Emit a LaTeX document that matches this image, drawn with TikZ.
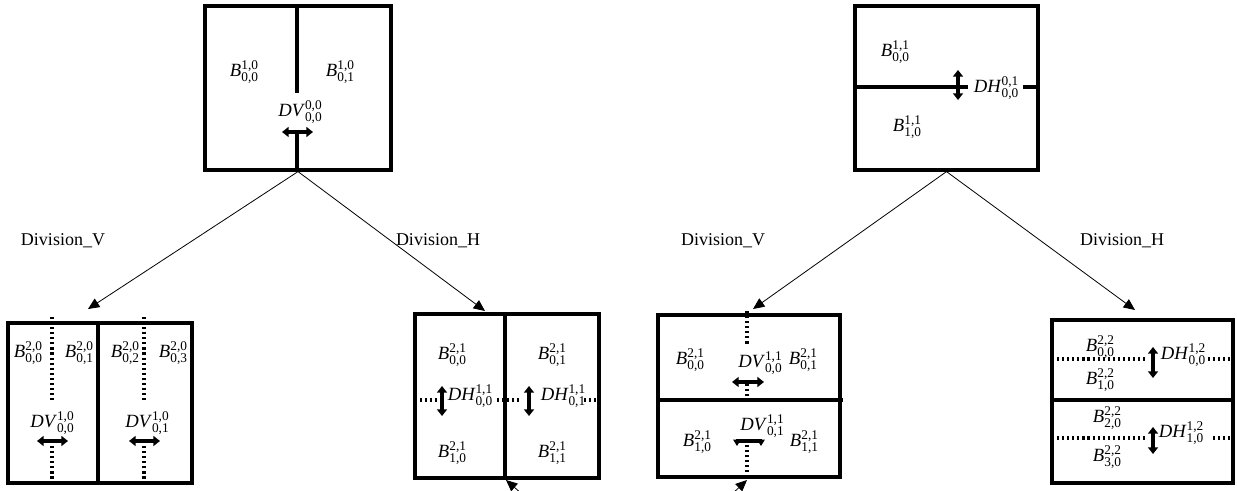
\documentclass[tikz,border=0pt]{standalone}
\usepackage{fontspec}
\setmainfont{Liberation Serif}
\usetikzlibrary{arrows.meta}
\newcommand\mylab[3]{\textit{#1}\makebox[0pt][l]{\raisebox{0.8ex}{\fontsize{10}{10}\selectfont #2}}\raisebox{-0.6ex}{\fontsize{10}{10}\selectfont #3}}
\tikzset{
  box/.style={draw, line width=2.4pt, inner sep=0pt},
  conn/.style={-{Triangle[length=8.5pt,width=7.5pt]}, line width=0.6pt},
  divline/.style={line width=2.6pt},
  dots/.style={line width=2.3pt, dash pattern=on 1.6pt off 2.2pt},
  dbl/.style={{Triangle[length=5pt,width=7.5pt]}-{Triangle[length=5pt,width=7.5pt]}, line width=2.6pt},
  lab/.style={font=\fontsize{14}{16}\selectfont, inner sep=0pt},
  title/.style={font=\fontsize{13.5}{16}\selectfont, inner sep=0pt}
}
\begin{document}
\begin{tikzpicture}[x=0.75pt,y=-0.75pt]
\useasboundingbox (0,0) rectangle (1237,491);
% boxes
\node[box, minimum width=186*0.75pt, minimum height=164*0.75pt] (t1) at (298,88) {};
\node[box, minimum width=183*0.75pt, minimum height=164*0.75pt] (t2) at (946.5,88) {};
\node[box, minimum width=184*0.75pt, minimum height=160*0.75pt] (bl) at (100,403) {};
\node[box, minimum width=184*0.75pt, minimum height=164*0.75pt] (bm1) at (507,396) {};
\node[box, minimum width=182*0.75pt, minimum height=162*0.75pt] (bm2) at (749,396) {};
\node[box, minimum width=181*0.75pt, minimum height=163*0.75pt] (br) at (1142.5,401.5) {};

% connector tips
\coordinate (a1) at (88,309);
\coordinate (a2) at (485,311);
\coordinate (a3) at (753,309);
\coordinate (a4) at (1135,310);
\draw[conn] (t1.south) -- (a1);
\draw[conn] (t1.south) -- (a2);
\draw[conn] (t2.south) -- (a3);
\draw[conn] (t2.south) -- (a4);

% titles
\node[title] (dv1) at (63,241) {Division\_V};
\node[title] (dh1) at (438,241) {Division\_H};
\node[title] (dv2) at (723,241) {Division\_V};
\node[title] (dh2) at (1122,241) {Division\_H};

% ---- T1
\draw[divline] (297,6) -- (297,93);
\draw[divline] (297,132) -- (297,170);
\draw[dbl] (282,132) -- (313,132);
\node[lab] (t1dv) at (300,112) {\mylab{DV}{0,0}{0,0}};
\node[lab] (t1b0) at (244,72) {\mylab{B}{1,0}{0,0}};
\node[lab] (t1b1) at (340,72) {\mylab{B}{1,0}{0,1}};

% ---- T2
\draw[divline] (855,87) -- (968,87);
\draw[divline] (1023,87) -- (1038,87);
\draw[dbl] (958,70) -- (958,100);
\node[lab] (t2dh) at (996,88) {\mylab{DH}{0,1}{0,0}};
\node[lab] (t2b0) at (895,52) {\mylab{B}{1,1}{0,0}};
\node[lab] (t2b1) at (907,127) {\mylab{B}{1,1}{1,0}};

% ---- BL
\draw[divline] (98,323) -- (98,483);
\draw[dots] (52,317) -- (52,400);
\draw[dots] (52,441) -- (52,483);
\draw[dots] (144,317) -- (144,400);
\draw[dots] (144,441) -- (144,483);
\draw[dbl] (37,441) -- (68,441);
\draw[dbl] (129,441) -- (160,441);
\node[lab] (bldv0) at (52,423) {\mylab{DV}{1,0}{0,0}};
\node[lab] (bldv1) at (147,423) {\mylab{DV}{1,0}{0,1}};
\node[lab] (blb0) at (28,353) {\mylab{B}{2,0}{0,0}};
\node[lab] (blb1) at (79,353) {\mylab{B}{2,0}{0,1}};
\node[lab] (blb2) at (125,353) {\mylab{B}{2,0}{0,2}};
\node[lab] (blb3) at (173,353) {\mylab{B}{2,0}{0,3}};

% ---- BM1
\draw[divline] (505,314) -- (505,478);
\draw[dots] (415,400) -- (437,400);
\draw[dots] (497,400) -- (521,400);
\draw[dots] (584,400) -- (599,400);
\draw[dbl] (442,386) -- (442,416);
\draw[dbl] (529,386) -- (529,416);
\node[lab] (m1dh0) at (470,396) {\mylab{DH}{1,1}{0,0}};
\node[lab] (m1dh1) at (563,396) {\mylab{DH}{1,1}{0,1}};
\node[lab] (m1b00) at (452,355) {\mylab{B}{2,1}{0,0}};
\node[lab] (m1b01) at (552,355) {\mylab{B}{2,1}{0,1}};
\node[lab] (m1b10) at (452,453) {\mylab{B}{2,1}{1,0}};
\node[lab] (m1b11) at (552,453) {\mylab{B}{2,1}{1,1}};
\coordinate (e1) at (522,494);
\draw[conn] (e1) -- (506,480);

% ---- BM2
\draw[divline] (658,400) -- (843,400);
\draw[dots] (747,311) -- (747,346);
\draw[dots] (747,384) -- (747,400);
\draw[dots] (747,445) -- (747,477);
\draw[dbl] (732,382) -- (764,382);
\draw[line width=2.8pt] (736,441) -- (762,441);
\fill (733,439.5) -- (741,439.5) -- (737,446) -- cycle;
\fill (757,439.5) -- (765,439.5) -- (761,446) -- cycle;
\node[lab] (m2dv0) at (760,363) {\mylab{DV}{1,1}{0,0}};
\node[lab] (m2dv1) at (762,426) {\mylab{DV}{1,1}{0,1}};
\node[lab] (m2b00) at (690,360) {\mylab{B}{2,1}{0,0}};
\node[lab] (m2b01) at (803,360) {\mylab{B}{2,1}{0,1}};
\node[lab] (m2b10) at (697,442) {\mylab{B}{2,1}{1,0}};
\node[lab] (m2b11) at (804,442) {\mylab{B}{2,1}{1,1}};
\coordinate (e2) at (732,494);
\draw[conn] (e2) -- (747,480);

% ---- BR
\draw[divline] (1052,400) -- (1233,400);
\draw[dots] (1052,359) -- (1147,359);
\draw[dots] (1208,359) -- (1233,359);
\draw[dots] (1052,438) -- (1147,438);
\draw[dots] (1213,438) -- (1233,438);
\draw[dbl] (1153,347) -- (1153,378);
\draw[dbl] (1153,427) -- (1153,454);
\node[lab] (brdh0) at (1183,355) {\mylab{DH}{1,2}{0,0}};
\node[lab] (brdh1) at (1181,433) {\mylab{DH}{1,2}{1,0}};
\node[lab] (brb0) at (1100,347) {\mylab{B}{2,2}{0,0}};
\node[lab] (brb1) at (1100,380) {\mylab{B}{2,2}{1,0}};
\node[lab] (brb2) at (1107,418) {\mylab{B}{2,2}{2,0}};
\node[lab] (brb3) at (1107,457) {\mylab{B}{2,2}{3,0}};
\end{tikzpicture}
\end{document}
